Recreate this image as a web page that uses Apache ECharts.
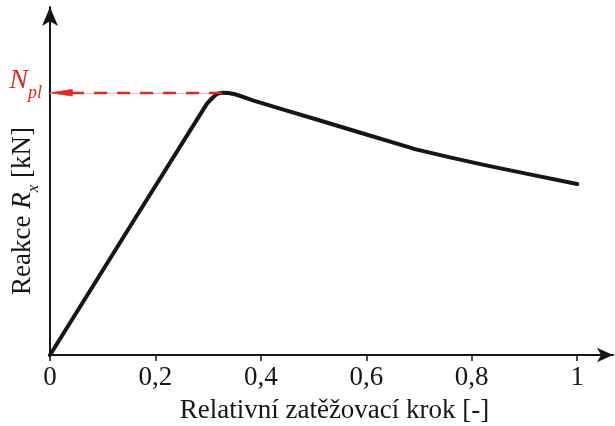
<!DOCTYPE html>
<html>
<head>
<meta charset="utf-8">
<script src="https://cdn.jsdelivr.net/npm/echarts@6/dist/echarts.min.js"></script>
<style>
  html, body { margin: 0; padding: 0; background: #fff; }
  #chart { width: 615px; height: 426px; }
</style>
</head>
<body>
<div id="chart"></div>
<script>
// relative load step vs. reaction (normalised so that N_pl = 1)
const steps = [0, 0.296, 0.308, 0.317, 0.326, 0.349, 0.383, 0.509, 0.666, 0.698, 0.825, 1.0]
const reaction = [0, 0.953, 0.98, 0.995, 1.0, 0.995, 0.972, 0.896, 0.801, 0.782, 0.724, 0.652]
const xTicks = [0, 0.2, 0.4, 0.6, 0.8, 1]
const peakStep = 0.326
const npl = 1

const red = '#e02a1f'
const ink = '#161616'
const serif = 'Liberation Serif'

const chart = echarts.init(document.getElementById('chart'))

chart.setOption({
  animation: false,
  grid: { left: 50, right: 2, top: 7, bottom: 71, outerBoundsMode: 'none', containLabel: false },
  xAxis: {
    type: 'value',
    min: 0,
    max: 1.068,
    name: 'Relativní zatěžovací krok [-]',
    nameLocation: 'middle',
    nameGap: 42,
    nameMoveOverlap: false,
    nameTextStyle: { fontFamily: serif, fontSize: 27, color: ink, padding: [0, 0, 0, 6] },
    axisLine: {
      lineStyle: { color: ink, width: 2 },
      symbol: ['none', 'arrow'],
      symbolSize: [11, 16],
    },
    axisTick: { customValues: xTicks, length: 6, lineStyle: { color: ink, width: 1.5 } },
    axisLabel: {
      customValues: xTicks,
      margin: 9,
      fontFamily: serif,
      fontSize: 27,
      color: ink,
      formatter: (v) => String(v).replace('.', ','),
    },
    splitLine: { show: false },
  },
  yAxis: {
    type: 'value',
    min: 0,
    max: 1.327,
    name: '{a|Reakce }{i|R}{s|x}{a| [kN]}',
    nameLocation: 'middle',
    nameRotate: 90,
    nameGap: 8,
    nameMoveOverlap: false,
    nameTextStyle: {
      padding: [0, 60, 0, 0],
      rich: {
        a: { fontFamily: serif, fontSize: 27, color: ink, padding: [0, 0, 6, 0], verticalAlign: 'bottom' },
        i: { fontFamily: serif, fontSize: 27, color: ink, fontStyle: 'italic', padding: [0, 0, 6, 0], verticalAlign: 'bottom' },
        s: { fontFamily: serif, fontSize: 17, color: ink, fontStyle: 'italic', verticalAlign: 'bottom' },
      },
    },
    axisLine: {
      show: true,
      lineStyle: { color: ink, width: 2 },
      symbol: ['none', 'arrow'],
      symbolSize: [12, 19],
    },
    axisTick: { show: false },
    axisLabel: {
      customValues: [npl],
      margin: 8,
      padding: [0, 0, 16, 0],
      formatter: () => '{n|N}{s|pl}',
      rich: {
        n: { fontFamily: serif, fontSize: 28, color: red, fontStyle: 'italic', padding: [0, 0, 8, 0], verticalAlign: 'bottom' },
        s: { fontFamily: serif, fontSize: 18, color: red, fontStyle: 'italic', verticalAlign: 'bottom' },
      },
    },
    splitLine: { show: false },
  },
  series: [
    {
      type: 'line',
      data: steps.map((s, i) => [s, reaction[i]]),
      showSymbol: false,
      smooth: 0.25,
      lineStyle: { color: ink, width: 4, cap: 'round', join: 'round' },
      z: 3,
      markLine: {
        silent: true,
        animation: false,
        label: { show: false },
        symbol: 'none',
        data: [
          [
            { coord: [0, npl], lineStyle: { color: '#f4b9b3', width: 1, type: 'solid' } },
            { coord: [peakStep, npl] },
          ],
          [
            { coord: [0.04, npl], lineStyle: { color: red, width: 2.4, type: [13, 10] } },
            { coord: [peakStep, npl] },
          ],
        ],
      },
    },
    {
      // arrow head of the N_pl marker, tip on the y axis
      type: 'scatter',
      data: [[0, npl]],
      symbol: 'path://M0 0 L22 -6 L22 6 Z',
      symbolKeepAspect: true,
      symbolSize: [22, 12],
      symbolOffset: [11, 0],
      itemStyle: { color: red, opacity: 1, borderColor: red, borderWidth: 1 },
      clip: false,
      silent: true,
      z: 10,
    },
  ],
})
</script>
</body>
</html>
